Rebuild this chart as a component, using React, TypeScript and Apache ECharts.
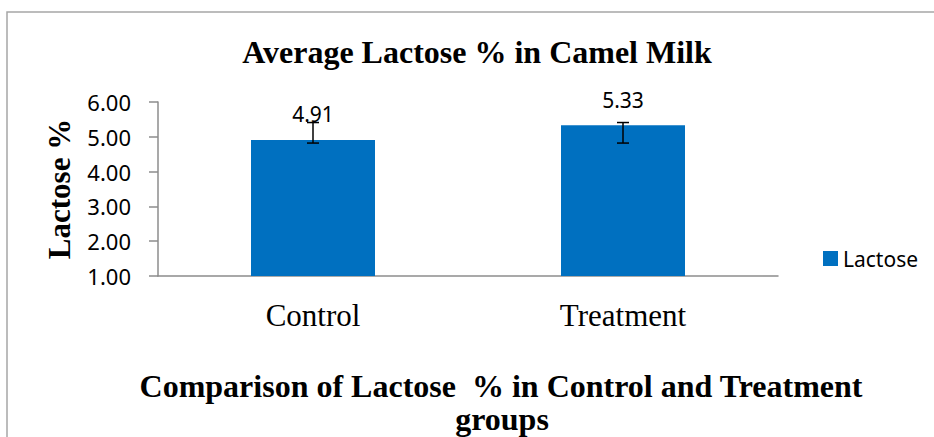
import React, { useEffect, useRef } from "react";
import * as echarts from "echarts";

const categories = ["Control", "Treatment"];
const lactoseMeans = [4.91, 5.33];
const errLow = [4.82, 4.82];
const errHigh = [5.41, 5.41];
const yTicks = { min: 1, max: 6, interval: 1 };

const chartTitle = "Average Lactose % in Camel Milk";
const bottomTitle1 = "Comparison of Lactose  % in Control and Treatment";
const bottomTitle2 = "groups";
const seriesName = "Lactose";
const yName = "Lactose %";

export default function App() {
  const ref = useRef<HTMLDivElement>(null);
  useEffect(() => {
    if (!ref.current) return;
    const chart = echarts.init(ref.current, undefined, { renderer: "svg" });
    const serif = "'Liberation Serif', 'Times New Roman', serif";
    const sans = "'Noto Sans', 'Open Sans', sans-serif";
    chart.setOption({
      animation: false,
      backgroundColor: "#ffffff",
      grid: { left: 158, right: 156, top: 102, bottom: 161, containLabel: false },
      legend: {
        data: [seriesName],
        left: 818,
        top: 243,
        icon: "rect",
        itemWidth: 15,
        itemHeight: 15,
        textStyle: { fontSize: 21, fontFamily: sans, color: "#000" },
      },
      xAxis: {
        type: "category",
        data: categories,
        axisLine: { show: true, lineStyle: { color: "#8c8c8c", width: 1.5 } },
        axisTick: { show: false },
        axisLabel: { fontSize: 31, fontFamily: serif, color: "#000", margin: 24 },
        splitLine: { show: false },
      },
      yAxis: {
        type: "value",
        min: yTicks.min,
        max: yTicks.max,
        interval: yTicks.interval,
        name: yName,
        nameLocation: "middle",
        nameGap: 83,
        nameTextStyle: { fontSize: 31, fontFamily: serif, fontWeight: "bold", color: "#000" },
        axisLine: { show: true, lineStyle: { color: "#8c8c8c", width: 1.5 } },
        axisTick: { show: true, length: 9, lineStyle: { color: "#8c8c8c", width: 1.5 } },
        axisLabel: {
          fontSize: 22,
          fontFamily: sans,
          color: "#000",
          margin: 27,
          formatter: (v: number) => v.toFixed(2),
        },
        splitLine: { show: false },
      },
      graphic: [
        {
          type: "rect",
          z: -1,
          shape: { x: 7, y: 12, width: 960, height: 460 },
          style: { fill: "none", stroke: "#a6a6a6", lineWidth: 1.5 },
        },
        {
          type: "text",
          x: 477,
          y: 52,
          style: {
            text: chartTitle,
            fontSize: 32,
            fontWeight: "bold",
            fontFamily: serif,
            fill: "#000",
            align: "center",
            verticalAlign: "middle",
          },
        },
        {
          type: "text",
          x: 501,
          y: 386,
          style: {
            text: bottomTitle1,
            fontSize: 32,
            fontWeight: "bold",
            fontFamily: serif,
            fill: "#000",
            align: "center",
            verticalAlign: "middle",
          },
        },
        {
          type: "text",
          x: 502,
          y: 419,
          style: {
            text: bottomTitle2,
            fontSize: 32,
            fontWeight: "bold",
            fontFamily: serif,
            fill: "#000",
            align: "center",
            verticalAlign: "middle",
          },
        },
      ],
      series: [
        {
          name: seriesName,
          type: "bar",
          data: lactoseMeans,
          barWidth: 124,
          itemStyle: { color: "#0070C0" },
          label: {
            show: true,
            position: "top",
            distance: 15,
            fontSize: 21,
            fontFamily: sans,
            color: "#000",
            formatter: (p: any) => Number(p.value).toFixed(2),
          },
        },
        {
          name: "Error",
          type: "custom",
          z: 5,
          data: categories.map((_, i) => [i, errLow[i], errHigh[i]]),
          encode: { x: 0, y: [1, 2] },
          renderItem: (params: any, api: any) => {
            const lo = api.coord([api.value(0), api.value(1)]);
            const hi = api.coord([api.value(0), api.value(2)]);
            const half = 6;
            const style = { stroke: "#000", lineWidth: 1.5 };
            return {
              type: "group",
              children: [
                { type: "line", shape: { x1: lo[0], y1: lo[1], x2: hi[0], y2: hi[1] }, style },
                { type: "line", shape: { x1: lo[0] - half, y1: lo[1], x2: lo[0] + half, y2: lo[1] }, style },
                { type: "line", shape: { x1: hi[0] - half, y1: hi[1], x2: hi[0] + half, y2: hi[1] }, style },
              ],
            };
          },
        },
      ],
    });
    return () => chart.dispose();
  }, []);
  return (
    <div
      ref={ref}
      style={{ position: "absolute", left: 0, top: 0, width: 934, height: 437 }}
    />
  );
}
